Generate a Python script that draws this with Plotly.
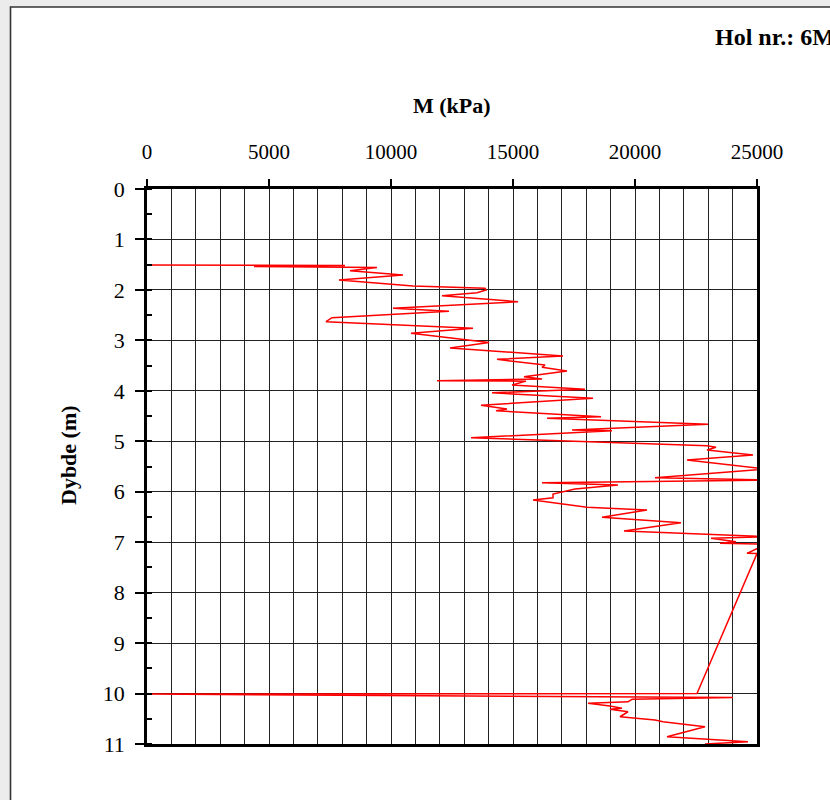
import plotly.graph_objects as go

# Data (M in kPa, depth in m)
modulus_kpa = [0, 8115, 4385, 9426, 8320, 10492, 7869, 10902, 13853, 13894,
               13525, 12090, 15205, 10082, 12377, 7582, 7336, 13361, 10820, 14017,
               12418, 17049, 14344, 16312, 16189, 17213, 15451, 16189, 11885, 15533,
               14959, 17951, 14139, 18279, 13689, 14754, 14303, 18607, 16394, 22992,
               17418, 19058, 13279, 22951, 23320, 22951, 24836, 22131, 25400, 20820,
               25400, 16189, 19303, 17541, 16640, 16640, 15820, 18033, 20492, 18648,
               21885, 21189, 19549, 25400, 23115, 24140, 23484, 25400, 24590, 25000,
               22541, 0, 24017, 19877, 19713, 18074, 18975, 19467, 18975, 19713,
               19385, 20820, 21148, 22869, 21312, 24631, 22869]
depth_m = [1.506, 1.516, 1.536, 1.556, 1.619, 1.705, 1.804, 1.923, 1.968, 2.002,
           2.055, 2.115, 2.234, 2.365, 2.424, 2.551, 2.630, 2.761, 2.860, 3.043,
           3.152, 3.310, 3.376, 3.489, 3.534, 3.608, 3.721, 3.766, 3.802, 3.808,
           3.885, 3.970, 4.038, 4.149, 4.287, 4.361, 4.394, 4.513, 4.545, 4.664,
           4.777, 4.791, 4.930, 5.088, 5.120, 5.173, 5.273, 5.372, 5.550, 5.722,
           5.768, 5.822, 5.867, 5.946, 6.046, 6.119, 6.164, 6.309, 6.363, 6.507,
           6.614, 6.660, 6.779, 6.892, 6.924, 6.991, 7.023, 7.037, 7.221, 7.225,
           10.000, 10.010, 10.079, 10.115, 10.163, 10.194, 10.248, 10.293, 10.313, 10.361,
           10.460, 10.525, 10.559, 10.658, 10.856, 10.955, 11.0]

x_ticks = [0, 5000, 10000, 15000, 20000, 25000]
y_ticks = list(range(0, 12))

W, H = 830, 800
ML, MR, MT, MB = 147, 73, 189, 56
PW, PH = W - ML - MR, H - MT - MB

def px(x):
    return (x - ML) / PW

def py(y):
    return (H - MB - y) / PH

serif = "Liberation Serif, Times New Roman, serif"

fig = go.Figure()
fig.add_trace(go.Scatter(x=modulus_kpa, y=depth_m, mode="lines",
                         line=dict(color="#ff0000", width=1.5),
                         showlegend=False, hoverinfo="skip"))

fig.update_layout(
    width=W, height=H,
    margin=dict(l=ML, r=MR, t=MT, b=MB, pad=0),
    paper_bgcolor="#ececec",
    plot_bgcolor="white",
    font=dict(family=serif, color="black", size=20),
    shapes=[dict(type="rect", xref="paper", yref="paper", layer="below",
                 x0=px(10.5), x1=px(900), y0=py(900), y1=py(7),
                 fillcolor="white", line=dict(color="#333333", width=1.6))],
    annotations=[
        dict(text="<b>M (kPa)</b>", xref="paper", yref="paper", x=px(452), y=py(105),
             xanchor="center", yanchor="middle",
             showarrow=False, font=dict(size=22, family=serif)),
        dict(text="<b>Dybde (m)</b>", xref="paper", yref="paper", x=px(68), y=py(455),
             xanchor="center", yanchor="middle",
             showarrow=False, textangle=-90, font=dict(size=22, family=serif)),
        dict(text="<b>Hol nr.: 6M</b>", xref="paper", yref="paper", x=px(713), y=py(37),
             xanchor="left", yanchor="middle", showarrow=False,
             font=dict(size=24, family=serif)),
    ],
)

fig.update_xaxes(
    side="top", range=[0, 25000], tickvals=x_ticks,
    ticktext=[str(v) for v in x_ticks],
    ticks="outside", ticklen=7, tickwidth=1.5, tickcolor="black",
    showgrid=True, gridcolor="#222222", gridwidth=1,
    minor=dict(dtick=1000, showgrid=True, gridcolor="#222222", gridwidth=1),
    showline=True, linecolor="black", linewidth=2.5, mirror=True,
    zeroline=False, tickfont=dict(size=21, family=serif), ticklabelstandoff=12,
)
fig.update_yaxes(
    range=[11, 0], tickvals=y_ticks, ticktext=[str(v) for v in y_ticks],
    ticks="outside", ticklen=9, tickwidth=1.5, tickcolor="black",
    showgrid=True, gridcolor="#222222", gridwidth=1,
    minor=dict(dtick=0.5, ticks="inside", ticklen=5, tickcolor="black", showgrid=False),
    showline=True, linecolor="black", linewidth=2.5, mirror=True,
    zeroline=False, tickfont=dict(size=22, family=serif), ticklabelstandoff=6,
)

fig.write_html("out.html")
